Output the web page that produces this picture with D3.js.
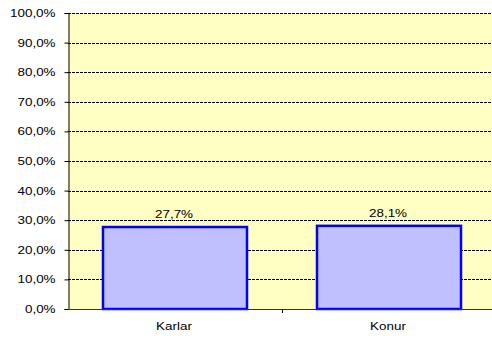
<!DOCTYPE html>
<html>
<head>
<meta charset="utf-8">
<script src="https://cdn.jsdelivr.net/npm/d3@7"></script>
<style>
  html, body { margin: 0; padding: 0; background: #fff; }
  svg { display: block; }
  text { font-family: "Liberation Sans", Arial, sans-serif; fill: #000; }
</style>
</head>
<body>
<svg id="chart" width="492" height="340"></svg>
<script>
// Data
const categories = ["Karlar", "Konur"];
const values = [27.7, 28.1];
const yTicks = [0, 10, 20, 30, 40, 50, 60, 70, 80, 90, 100];

const fmt = v => v.toFixed(1).replace(".", ",") + "%";
const SX = 1.22; // horizontal stretch of the lettering

const svg = d3.select("#chart");
const plotL = 68, plotR = 496, plotT = 13, plotB = 309;

const x = d3.scaleBand().domain(categories).range([plotL, plotR]).paddingInner(0.327).paddingOuter(0.1635);
const xb = d3.scaleBand().domain(categories).range([plotL, plotR]);
const y = d3.scaleLinear().domain([0, 100]).range([plotB, plotT]);

// plot background
svg.append("rect")
  .attr("x", plotL).attr("y", plotT)
  .attr("width", plotR - plotL).attr("height", plotB - plotT)
  .attr("fill", "#FFFFC4");

// dashed gridlines
svg.append("g").selectAll("line").data(yTicks.filter(d => d > 0)).join("line")
  .attr("x1", plotL).attr("x2", plotR)
  .attr("y1", d => Math.round(y(d)) + 0.5).attr("y2", d => Math.round(y(d)) + 0.5)
  .attr("stroke", "#000").attr("stroke-width", 1)
  .attr("stroke-dasharray", "3,1");

// bars
svg.append("g").selectAll("rect").data(values).join("rect")
  .attr("x", (d, i) => x(categories[i]))
  .attr("y", d => y(d))
  .attr("width", x.bandwidth())
  .attr("height", d => plotB - y(d))
  .attr("fill", "#C0C0FF")
  .attr("stroke", "#0000FF")
  .attr("stroke-width", 2.5);

// value labels
const lab = svg.append("g").selectAll("g").data(values).join("g")
  .attr("transform", (d, i) => `translate(${x(categories[i]) + x.bandwidth() / 2 - 1},${y(d) - 9})`);
lab.append("rect")
  .attr("x", -20).attr("y", -11).attr("width", 40).attr("height", 13)
  .attr("fill", "#FFFFC4");
lab.append("text")
  .attr("text-anchor", "middle")
  .attr("font-size", 11)
  .attr("transform", `scale(${SX},1)`)
  .text(d => fmt(d));

// y axis
const yAxis = svg.append("g")
  .attr("transform", `translate(${plotL + 0.5},0)`)
  .call(d3.axisLeft(y).tickValues(yTicks).tickSize(4).tickFormat(d => fmt(d)));
yAxis.select(".domain").attr("stroke", "#000");
yAxis.selectAll(".tick line").attr("stroke", "#000");
yAxis.selectAll(".tick text")
  .attr("x", null)
  .attr("font-size", 11)
  .attr("font-family", "Liberation Sans, Arial, sans-serif")
  .attr("transform", `translate(-13,0) scale(${SX},1)`);

// x axis
const xg = svg.append("g");
xg.append("line")
  .attr("x1", plotL).attr("x2", plotR)
  .attr("y1", plotB + 0.5).attr("y2", plotB + 0.5)
  .attr("stroke", "#333").attr("stroke-width", 1);
xg.selectAll("line.sep").data(categories.slice(1)).join("line")
  .attr("class", "sep")
  .attr("x1", d => Math.round(xb(d)) + 0.5).attr("x2", d => Math.round(xb(d)) + 0.5)
  .attr("y1", plotB).attr("y2", plotB + 4)
  .attr("stroke", "#000");
xg.selectAll("text").data(categories).join("text")
  .attr("text-anchor", "middle")
  .attr("font-size", 11)
  .attr("transform", d => `translate(${xb(d) + xb.bandwidth() / 2 - 1},${plotB + 21}) scale(${SX},1)`)
  .text(d => d);
</script>
</body>
</html>
